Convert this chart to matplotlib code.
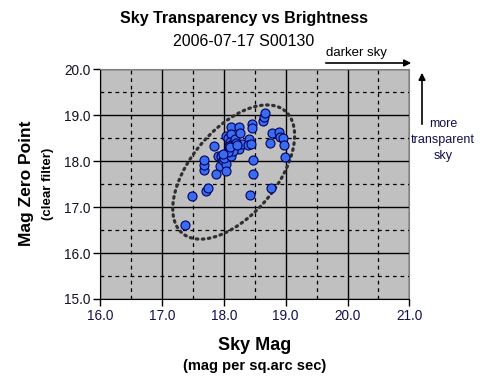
import numpy as np
import matplotlib
matplotlib.use('Agg')
import matplotlib.pyplot as plt

plt.rcParams['font.family'] = ['Liberation Sans', 'DejaVu Sans']

# sky brightness (mag per sq.arc sec) vs zero point
sky_mag = [17.37, 17.48, 17.72, 17.74, 17.68, 17.68, 17.68, 17.84, 17.88, 17.90,
           17.94, 17.96, 17.99, 18.02, 18.03, 18.04, 18.00, 18.12, 18.03, 18.06,
           18.12, 18.12, 18.10, 18.14, 18.16, 18.18, 18.24, 18.26, 18.24, 18.29,
           18.40, 18.39, 18.44, 18.45, 18.46, 18.47, 18.48, 18.42, 18.64, 18.65,
           18.66, 18.75, 18.78, 18.76, 18.90, 18.91, 18.95, 18.98, 18.99,
           18.08, 18.20, 18.15, 18.06, 17.98, 18.10, 18.22]
zero_pt = [16.60, 17.23, 17.34, 17.42, 17.80, 17.92, 18.03, 18.32, 17.71, 18.11,
           17.90, 18.10, 18.03, 18.15, 17.93, 17.78, 18.06, 18.11, 18.55, 18.51,
           18.74, 18.58, 18.42, 18.38, 18.29, 18.47, 18.74, 18.60, 18.27, 18.38,
           18.48, 18.35, 18.36, 18.80, 18.72, 18.02, 17.72, 17.26, 18.88, 18.96,
           19.05, 18.39, 18.60, 17.41, 18.62, 18.53, 18.50, 18.35, 18.08,
           18.33, 18.40, 18.22, 18.20, 18.15, 18.30, 18.35]

# hand drawn ellipse round the cloud (centre + two conjugate half axes)
ell_c = (18.16, 17.76)
ell_u = (0.83, 1.33)
ell_v = (-0.53, 0.60)

fig = plt.figure(figsize=(4.88, 3.91), dpi=100)
ax = fig.add_axes([0.205, 0.2353, 0.634, 0.5882])
ax.set_facecolor('#c0c0c0')

ax.set_xlim(16, 21)
ax.set_ylim(15, 20)
ax.set_xticks(np.arange(16, 21.01, 1.0))
ax.set_yticks(np.arange(15, 20.01, 1.0))
ax.set_xticks(np.arange(16.5, 21, 1.0), minor=True)
ax.set_yticks(np.arange(15.5, 20, 1.0), minor=True)
ax.set_xticklabels(['%.1f' % v for v in np.arange(16, 21.01, 1.0)], color='#101050')
ax.set_yticklabels(['%.1f' % v for v in np.arange(15, 20.01, 1.0)], color='#101020')
ax.tick_params(which='major', direction='out', length=5, width=1, labelsize=9.8, pad=2)
ax.tick_params(which='minor', length=0)
ax.grid(which='major', color='black', linewidth=1, linestyle='-')
ax.grid(which='minor', color='black', linewidth=0.9, linestyle=(0, (3, 3)))
ax.set_axisbelow(True)

for s in ['left', 'bottom']:
    ax.spines[s].set_color('black')
for s in ['right', 'top']:
    ax.spines[s].set_color('#808080')

t = np.linspace(0, 2*np.pi, 300)
ex = ell_c[0] + ell_u[0]*np.cos(t) + ell_v[0]*np.sin(t)
ey = ell_c[1] + ell_u[1]*np.cos(t) + ell_v[1]*np.sin(t)
ax.plot(ex, ey, color='#303030', linewidth=2.3, linestyle=(0, (0.5, 1.4)),
        dash_capstyle='round', zorder=3)

ax.plot(sky_mag, zero_pt, 'o', ms=6.5, mfc='#3a6cf0', mec='#000060', mew=0.8,
        linestyle='none', zorder=4)

fig.text(0.5, 1 - 18/391, 'Sky Transparency vs Brightness', ha='center', va='center',
         fontsize=11.5, fontweight='bold')
fig.text(0.5, 1 - 42/391, '2006-07-17 S00130', ha='center', va='center', fontsize=11.5)

fig.text(27/488, 1 - 183/391, 'Mag Zero Point', rotation=90, ha='center', va='center',
         fontsize=12.5, fontweight='bold')
fig.text(48/488, 1 - 184/391, '(clear filter)', rotation=90, ha='center', va='center',
         fontsize=9.5, fontweight='bold')
fig.text(255/488, 1 - 345/391, 'Sky Mag', ha='center', va='center',
         fontsize=13, fontweight='bold')
fig.text(255/488, 1 - 366/391, '(mag per sq.arc sec)', ha='center', va='center',
         fontsize=10.5, fontweight='bold')

# direction hints
fig.text(356/488, 1 - 53/391, 'darker sky', ha='center', va='center', fontsize=9.5)
fig.patches.append(matplotlib.patches.FancyArrowPatch(
    (323/488, 1 - 63/391), (414/488, 1 - 63/391), transform=fig.transFigure,
    arrowstyle='-|>', mutation_scale=10, color='black', linewidth=1.2))
fig.patches.append(matplotlib.patches.FancyArrowPatch(
    (422/488, 1 - 127/391), (422/488, 1 - 70/391), transform=fig.transFigure,
    arrowstyle='-|>', mutation_scale=10, color='black', linewidth=1.2))
fig.text(443/488, 1 - 140/391, 'more\ntransparent\nsky', ha='center', va='center',
         fontsize=9, color='#101050', linespacing=1.45)

fig.savefig('out.png', dpi=100)
